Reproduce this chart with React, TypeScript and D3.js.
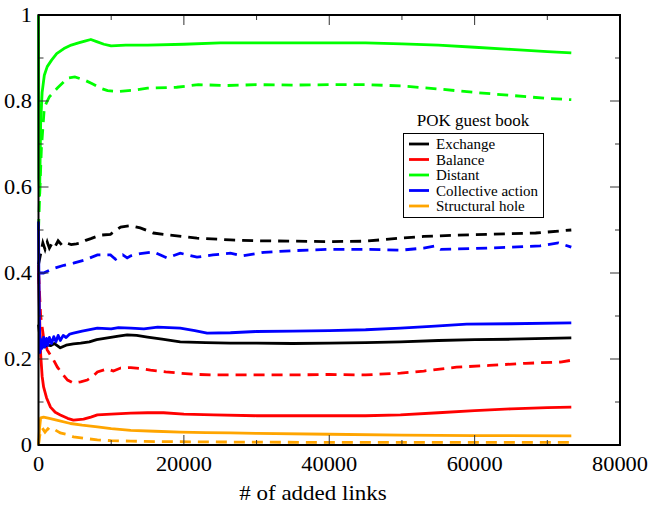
import React from "react";
import * as d3 from "d3";

type P = [number, number];

const xTicks = [0, 20000, 40000, 60000, 80000];
const xMinorTicks = [10000, 30000, 50000, 70000];
const yTicks = [0, 0.2, 0.4, 0.6, 0.8, 1];
const yMinorTicks = [0.1, 0.3, 0.5, 0.7, 0.9];
const yTickLabels = ["0", "0.2", "0.4", "0.6", "0.8", "1"];
const xTickLabels = ["0", "20000", "40000", "60000", "80000"];

const legendTitle = "POK guest book";
const seriesNames = ["Exchange", "Balance", "Distant", "Collective action", "Structural hole"];
const seriesColors = ["#000000", "#ff0000", "#00ff00", "#0000ff", "#ffa500"];

const exchangeSolid: P[] = [[0,0.28],[300,0.235],[800,0.228],[1200,0.233],[1650,0.231],[2200,0.236],[3000,0.226],[3800,0.232],[4800,0.235],[5800,0.237],[7000,0.24],[8000,0.245],[9500,0.249],[11000,0.253],[12200,0.256],[13500,0.255],[15000,0.251],[17000,0.246],[19500,0.24],[23000,0.238],[26400,0.237],[30000,0.237],[35000,0.236],[40000,0.237],[45000,0.238],[49800,0.24],[55000,0.243],[60000,0.245],[65000,0.246],[70000,0.248],[73300,0.249]];
const exchangeDashed: P[] = [[0,0.42],[300,0.445],[600,0.47],[900,0.455],[1200,0.472],[1500,0.458],[1900,0.47],[2300,0.462],[2700,0.475],[3200,0.465],[3800,0.47],[4500,0.466],[5200,0.468],[5800,0.47],[6500,0.476],[7200,0.48],[8500,0.488],[9900,0.49],[11300,0.507],[12700,0.51],[14000,0.505],[15800,0.493],[18100,0.488],[21800,0.481],[26400,0.477],[30000,0.475],[35000,0.474],[40000,0.473],[45000,0.474],[49800,0.481],[53000,0.485],[57500,0.488],[62000,0.49],[68400,0.493],[73300,0.5]];
const balanceSolid: P[] = [[0,0.42],[150,0.3],[300,0.21],[500,0.16],[700,0.135],[1100,0.11],[1650,0.088],[2300,0.076],[3000,0.07],[4000,0.062],[4800,0.058],[6200,0.06],[7200,0.065],[8100,0.07],[10000,0.072],[12700,0.074],[15000,0.075],[17200,0.075],[20000,0.072],[24100,0.07],[30000,0.068],[35000,0.068],[40000,0.068],[45000,0.068],[49800,0.07],[55000,0.075],[60000,0.08],[65000,0.084],[70000,0.087],[73300,0.088]];
const balanceDashed: P[] = [[0,0.4],[300,0.3],[700,0.25],[1200,0.221],[2000,0.2],[2600,0.181],[3300,0.165],[4000,0.151],[4800,0.144],[5800,0.147],[6700,0.151],[7500,0.16],[8100,0.17],[9500,0.177],[10300,0.172],[11300,0.179],[12700,0.18],[14000,0.178],[15400,0.174],[17500,0.17],[19500,0.167],[22000,0.164],[24100,0.163],[30000,0.163],[35000,0.163],[40000,0.164],[45000,0.163],[49800,0.167],[53000,0.172],[57500,0.181],[62000,0.185],[67000,0.19],[71800,0.193],[73300,0.197]];
const distantSolid: P[] = [[0,1.0],[60,0.62],[150,0.58],[300,0.75],[500,0.82],[800,0.86],[1200,0.88],[1800,0.895],[2500,0.91],[3500,0.922],[4500,0.93],[5500,0.935],[6500,0.94],[7200,0.943],[8000,0.938],[9000,0.932],[10000,0.928],[12000,0.93],[15000,0.93],[20000,0.932],[25000,0.935],[30000,0.935],[40000,0.935],[45000,0.935],[50000,0.933],[55000,0.93],[60000,0.925],[65000,0.92],[70000,0.915],[73300,0.912]];
const distantDashed: P[] = [[0,0.5],[200,0.6],[400,0.69],[800,0.785],[1500,0.81],[2600,0.83],[4000,0.853],[5000,0.856],[6300,0.849],[7400,0.84],[8500,0.83],[9500,0.824],[11000,0.822],[13000,0.825],[15000,0.83],[19000,0.832],[22000,0.838],[26000,0.836],[30000,0.838],[35000,0.837],[40000,0.838],[45000,0.838],[50000,0.835],[55000,0.828],[60000,0.82],[65000,0.813],[70000,0.806],[73300,0.803]];
const collectiveSolid: P[] = [[0,0.52],[50,0.4],[120,0.3],[200,0.215],[350,0.245],[500,0.225],[700,0.25],[900,0.228],[1100,0.248],[1300,0.232],[1500,0.25],[1800,0.236],[2100,0.252],[2400,0.24],[2700,0.255],[3000,0.243],[3400,0.255],[3800,0.25],[4300,0.258],[4800,0.26],[6000,0.265],[8100,0.272],[10000,0.27],[11000,0.273],[12700,0.272],[14500,0.27],[16400,0.274],[19500,0.272],[21500,0.266],[23200,0.26],[26400,0.261],[30000,0.264],[35000,0.265],[40000,0.266],[45000,0.268],[49800,0.272],[54000,0.276],[58900,0.281],[65000,0.282],[73300,0.284]];
const collectiveDashed: P[] = [[0,0.4],[700,0.4],[2000,0.41],[3500,0.418],[4800,0.423],[6300,0.43],[8100,0.442],[9900,0.442],[10600,0.432],[11600,0.442],[12200,0.435],[12700,0.44],[14000,0.445],[15800,0.449],[17700,0.435],[19500,0.446],[21800,0.437],[24000,0.442],[26400,0.446],[28000,0.44],[31000,0.448],[35000,0.452],[40000,0.455],[45000,0.455],[49800,0.453],[53000,0.458],[54500,0.463],[55300,0.455],[60000,0.457],[65000,0.46],[69000,0.463],[71500,0.47],[73300,0.46]];
const structuralSolid: P[] = [[0,0],[150,0.04],[300,0.063],[700,0.065],[1500,0.062],[2500,0.058],[4400,0.05],[6000,0.046],[8100,0.042],[10000,0.038],[12700,0.034],[16000,0.032],[19500,0.03],[23000,0.029],[26400,0.028],[30000,0.027],[40000,0.025],[50000,0.023],[60000,0.022],[73300,0.021]];
const structuralDashed: P[] = [[0,0],[150,0.02],[300,0.03],[500,0.04],[900,0.03],[1300,0.038],[1650,0.033],[2200,0.036],[3000,0.028],[3800,0.025],[4800,0.019],[6500,0.015],[8100,0.012],[10000,0.01],[12700,0.009],[16000,0.008],[25000,0.007],[40000,0.006],[55000,0.006],[73300,0.006]];

const solidSeries = [exchangeSolid, balanceSolid, distantSolid, collectiveSolid, structuralSolid];
const dashedSeries = [exchangeDashed, balanceDashed, distantDashed, collectiveDashed, structuralDashed];

const FONT = "'Liberation Serif', 'Times New Roman', serif";

export default function App() {
  const W = 655, H = 507;
  const left = 38.5, right = 620, top = 15, bottom = 445;
  const x = d3.scaleLinear().domain([0, 80000]).range([left, right]);
  const y = d3.scaleLinear().domain([0, 1]).range([bottom, top]);
  const line = d3.line<P>().x(d => x(d[0])).y(d => y(d[1]));
  const major = 10, minor = 5;
  const tickColor = "#333";
  const ts = { fontFamily: FONT };
  const sx = 1.12;
  const lw = 2.8;

  return (
    <svg width={W} height={H} style={{ position: "absolute", left: 0, top: 0, background: "#fff", fontFamily: FONT }}>
      <rect x={0} y={0} width={W} height={H} fill="#fff" />
      {dashedSeries.map((s, i) => (
        <path key={"d" + i} d={line(s) || ""} fill="none" stroke={seriesColors[i]} strokeWidth={lw} strokeDasharray="11,7" />
      ))}
      {solidSeries.map((s, i) => (
        <path key={"s" + i} d={line(s) || ""} fill="none" stroke={seriesColors[i]} strokeWidth={lw} strokeLinejoin="round" />
      ))}
      {xTicks.map(t => (
        <g key={"xt" + t}>
          <line x1={x(t)} x2={x(t)} y1={bottom} y2={bottom - major} stroke={tickColor} strokeWidth={1} />
          <line x1={x(t)} x2={x(t)} y1={top} y2={top + major} stroke={tickColor} strokeWidth={1} />
        </g>
      ))}
      {xMinorTicks.map(t => (
        <g key={"xm" + t}>
          <line x1={x(t)} x2={x(t)} y1={bottom} y2={bottom - minor} stroke={tickColor} strokeWidth={1} />
          <line x1={x(t)} x2={x(t)} y1={top} y2={top + minor} stroke={tickColor} strokeWidth={1} />
        </g>
      ))}
      {yTicks.map(t => (
        <g key={"yt" + t}>
          <line x1={left} x2={left + major} y1={y(t)} y2={y(t)} stroke={tickColor} strokeWidth={1} />
          <line x1={right} x2={right - major} y1={y(t)} y2={y(t)} stroke={tickColor} strokeWidth={1} />
        </g>
      ))}
      {yMinorTicks.map(t => (
        <g key={"ym" + t}>
          <line x1={left} x2={left + minor} y1={y(t)} y2={y(t)} stroke={tickColor} strokeWidth={1} />
          <line x1={right} x2={right - minor} y1={y(t)} y2={y(t)} stroke={tickColor} strokeWidth={1} />
        </g>
      ))}
      <rect x={left} y={top} width={right - left} height={bottom - top} fill="none" stroke="#000" strokeWidth={2} />
      {xTicks.map((t, i) => (
        <text key={"xl" + t} style={ts} transform={`translate(${x(t)},471) scale(${sx},1)`} textAnchor="middle" fontSize={20} fill="#000">{xTickLabels[i]}</text>
      ))}
      {yTicks.map((t, i) => (
        <text key={"yl" + t} style={ts} transform={`translate(32,${y(t) + 7}) scale(${sx},1)`} textAnchor="end" fontSize={20} fill="#000">{yTickLabels[i]}</text>
      ))}
      <text style={ts} transform={`translate(313,500) scale(1.15,1)`} textAnchor="middle" fontSize={20} fill="#000"># of added links</text>
      <text style={ts} x={473} y={126} textAnchor="middle" fontSize={17} fill="#000">{legendTitle}</text>
      <rect x={403.5} y={133.5} width={140} height={84} fill="#fff" stroke="#000" strokeWidth={1} />
      {seriesNames.map((n, i) => (
        <g key={"lg" + i}>
          <line x1={409} x2={429} y1={144 + i * 15.5} y2={144 + i * 15.5} stroke={seriesColors[i]} strokeWidth={lw} />
          <text style={ts} x={436} y={149 + i * 15.5} fontSize={15} fill="#000">{n}</text>
        </g>
      ))}
    </svg>
  );
}
